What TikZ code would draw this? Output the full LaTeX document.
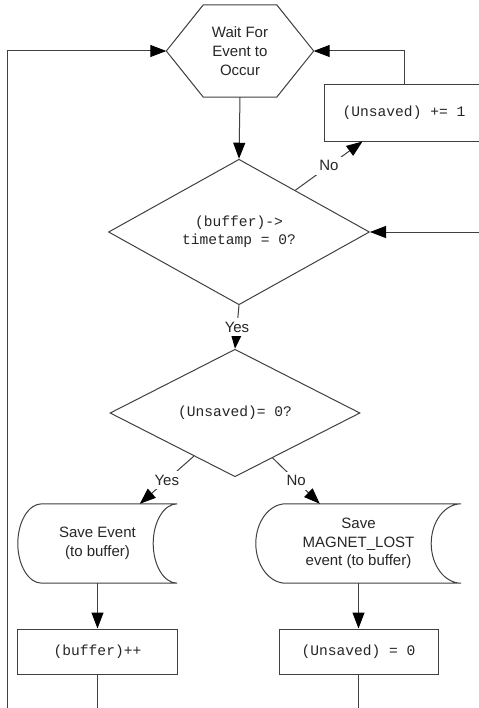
\documentclass[tikz,border=0pt]{standalone}
\usepackage{fontspec}
\setmainfont{Liberation Sans}
\setmonofont{Liberation Mono}
\usetikzlibrary{arrows.meta,shapes.geometric,calc}
\newcommand\sansfs{\fontsize{15bp}{18.5bp}\selectfont}
\newcommand\monofs{\ttfamily\fontsize{14.6bp}{18bp}\selectfont}
% stored-data outline around a (borderless) node: #1 name, #2 curve depth
\newcommand\storedoutline[2]{%
  \draw[line]
    ($(#1.north west)+(#2,0)$) -- (#1.north east)
    .. controls ($(#1.north east)+(-0.5523*#2,0)$) and ($(#1.east)+(-#2,-21.8)$) .. ($(#1.east)+(-#2,0)$)
    .. controls ($(#1.east)+(-#2,21.8)$) and ($(#1.south east)+(-0.5523*#2,0)$) .. (#1.south east)
    -- ($(#1.south west)+(#2,0)$)
    .. controls ($(#1.south west)+(0.4477*#2,0)$) and ($(#1.west)+(0,21.8)$) .. (#1.west)
    .. controls ($(#1.west)+(0,-21.8)$) and ($(#1.north west)+(0.4477*#2,0)$) .. ($(#1.north west)+(#2,0)$)
    -- cycle;}
\begin{document}
\begin{tikzpicture}[x=1bp,y=-1bp,
  line/.style={draw=black!75, line width=1bp},
  arr/.style={line, -{Triangle[length=16bp,width=12bp,fill=black,color=black]}},
  txt/.style={text=black!85, align=center, inner sep=0pt},
  boxnode/.style={txt, line, rectangle, font=\monofs},
  decision/.style={txt, line, diamond, font=\monofs},
  plainshape/.style={txt, draw=none, rectangle, font=\sansfs},
  lbl/.style={fill=white, text=black!85, inner sep=4bp, font=\sansfs}
]
\path[use as bounding box, fill=white] (0,0) rectangle (479,708);

% nodes
\node[plainshape, minimum width=147bp, minimum height=92bp,
      font=\fontsize{15bp}{19bp}\selectfont] (hex) at (240,51) {Wait For\\Event to\\Occur};
\draw[line] (hex.west) -- ($(hex.north west)+(37,0)$) -- ($(hex.north east)+(-37,0)$)
  -- (hex.east) -- ($(hex.south east)+(-37,0)$) -- ($(hex.south west)+(37,0)$) -- cycle;

\node[boxnode, minimum width=160bp, minimum height=56bp] (unsaved) at (404,113) {(Unsaved) += 1};

\node[decision, minimum width=261bp, minimum height=135bp] (d1) at (239,232) {(buffer)->\\timetamp = 0?};

\node[decision, minimum width=250bp, minimum height=113bp] (d2) at (235,413) {(Unsaved)= 0?};

\node[plainshape, minimum width=159bp, minimum height=79bp] (se) at (97.5,543.5) {Save Event\\(to buffer)};
\storedoutline{se}{24}

\node[plainshape, minimum width=205bp, minimum height=79bp] (sm) at (358.5,543.5) {Save\\MAGNET\_LOST\\event (to buffer)};
\storedoutline{sm}{30}

\node[boxnode, minimum width=159bp, minimum height=45bp] (bp) at (97.5,651.5) {(buffer)++};
\node[boxnode, minimum width=159bp, minimum height=45bp] (uz) at (358.5,651.5) {(Unsaved) = 0};

% free ends
\coordinate (rin) at (479,232);
\coordinate (loopstart) at (7,708);
\coordinate (bpend) at (97.5,708);
\coordinate (uzend) at (358.5,708);

% connectors
\draw[arr] (hex.south) -- (d1.north);
\draw[arr] ($(d1.north)!0.43!(d1.east)$) -- node[lbl]{No} ($(unsaved.south west)+(39,0)$);
\draw[arr] (unsaved.north) |- (hex.east);
\draw[arr] (rin) -- (d1.east);
\draw[arr] (d1.south) -- node[lbl]{Yes} (d2.north);
\draw[arr] ($(d2.west)!0.672!(d2.south)$) -- node[lbl]{Yes} ($(se.north west)+(122,0)$);
\draw[arr] ($(d2.south)!0.3!(d2.east)$) -- node[lbl]{No} ($(sm.north west)+(64,0)$);
\draw[arr] (se.south) -- (bp.north);
\draw[arr] (sm.south) -- (uz.north);
\draw[line] (bp.south) -- (bpend);
\draw[line] (uz.south) -- (uzend);
\draw[arr] (loopstart) |- (hex.west);
\end{tikzpicture}
\end{document}
